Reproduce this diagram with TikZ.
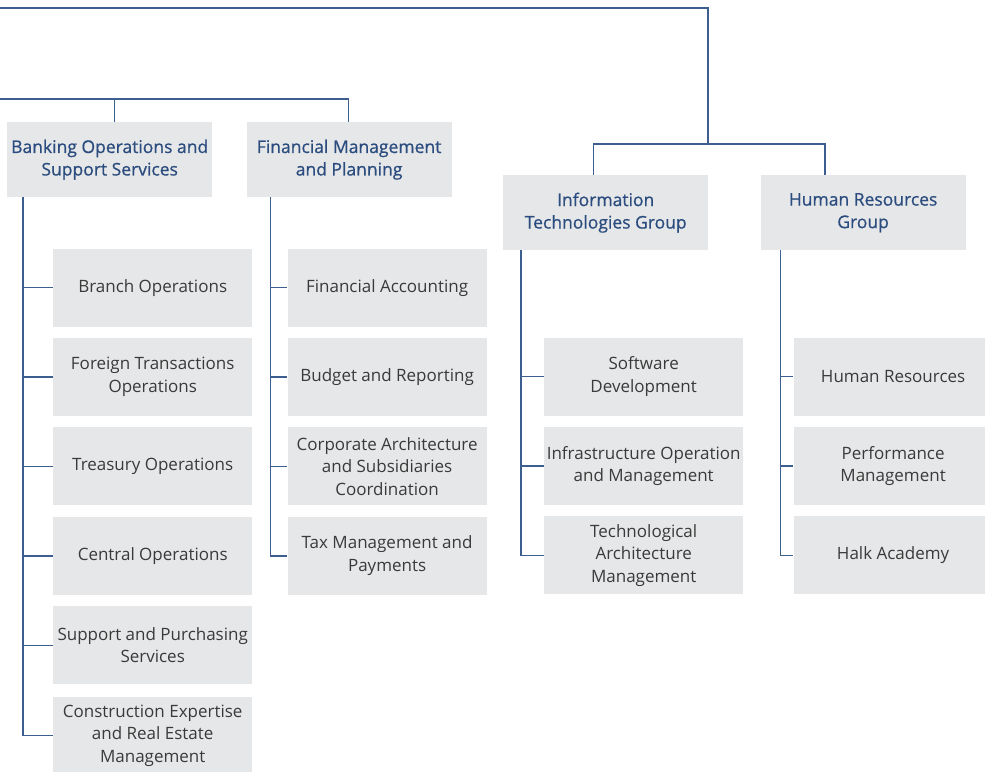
\documentclass[tikz,border=0pt]{standalone}
\usepackage{fontspec}
\setmainfont{Open Sans}
\newfontfamily\headfont{Open Sans}[FakeBold=0.7]
\usepackage{tikz}
\usetikzlibrary{positioning,calc}

\definecolor{boxgray}{HTML}{E6E7E8}
\definecolor{headblue}{HTML}{2B4C7E}
\definecolor{lineblue}{HTML}{3D5F8F}
\definecolor{unitgray}{HTML}{3A3A3A}

\begin{document}
\begin{tikzpicture}[
        x=1pt, y=-1pt,
        node distance=11pt,
        group/.style={rectangle, fill=boxgray, text=headblue, minimum width=205pt, minimum height=75pt, align=center, inner sep=0pt, font=\headfont\fontsize{17.5}{22.5}\selectfont},
        unit/.style={rectangle, fill=boxgray, text=unitgray, minimum width=199pt, minimum height=78pt, align=center, inner sep=0pt, font=\fontsize{17}{22.5}\selectfont},
        link/.style={draw=lineblue, line width=1.4pt}
    ]
    \useasboundingbox (0,0) rectangle (985,771);

    % group heads
    \node[group, anchor=north west] (bank) at (7,122) {Banking Operations and\\Support Services};
    \node[group, right=34pt of bank] (fin) {Financial Management\\and Planning};
    \node[group, anchor=north west] (itg) at (503,175) {Information\\Technologies Group};
    \node[group, right=52pt of itg] (hrg) {Human Resources\\Group};

    % banking units
    \node[unit, below right=51pt and 46pt of bank.south west] (branch) {Branch Operations};
    \node[unit, below=of branch] (foreign) {Foreign Transactions\\Operations};
    \node[unit, below=of foreign] (treasury) {Treasury Operations};
    \node[unit, below=of treasury] (central) {Central Operations};
    \node[unit, below=of central] (support) {Support and Purchasing\\Services};
    \node[unit, below=12pt of support] (constr) {Construction Expertise\\and Real Estate\\Management};

    % financial units
    \node[unit, below right=51pt and 41pt of fin.south west] (acc) {Financial Accounting};
    \node[unit, below=of acc] (budget) {Budget and Reporting};
    \node[unit, below=of budget] (corp) {Corporate Architecture\\and Subsidiaries\\Coordination};
    \node[unit, below=of corp] (tax) {Tax Management and\\Payments};

    % IT units
    \node[unit, below right=87pt and 41pt of itg.south west] (soft) {Software\\Development};
    \node[unit, below=of soft] (infra) {Infrastructure Operation\\and Management};
    \node[unit, below=of infra] (tech) {Technological\\Architecture\\Management};

    % HR units
    \node[unit, below right=87pt and 33pt of hrg.south west] (hr) {Human Resources};
    \node[unit, below=of hr] (perf) {Performance\\Management};
    \node[unit, below=of perf] (halk) {Halk Academy};

    % feeds coming in from the left
    \coordinate (upperin) at (0,8);
    \coordinate (lowerin) at (0,99);
    \coordinate (itfork) at (708,144);

    \draw[link] (upperin) -| (itfork);
    \draw[link] ([xshift=-12pt]itg.north) |- (itfork) -| ([xshift=-38pt]hrg.north);
    \draw[link] (lowerin) -| ([xshift=-0.5pt]fin.north);
    \draw[link] ([xshift=4.5pt]bank.north) -- ([xshift=4.5pt]bank.north |- lowerin);

    % stems down to the units
    \foreach \u in {branch,foreign,treasury,central,support,constr}
        \draw[link] ([xshift=16pt]bank.south west) |- (\u.west);
    \foreach \u in {acc,budget,corp,tax}
        \draw[link] ([xshift=24pt]fin.south west) |- (\u.west);
    \foreach \u in {soft,infra,tech}
        \draw[link] ([xshift=18pt]itg.south west) |- (\u.west);
    \foreach \u in {hr,perf,halk}
        \draw[link] ([xshift=20pt]hrg.south west) |- (\u.west);

\end{tikzpicture}
\end{document}
